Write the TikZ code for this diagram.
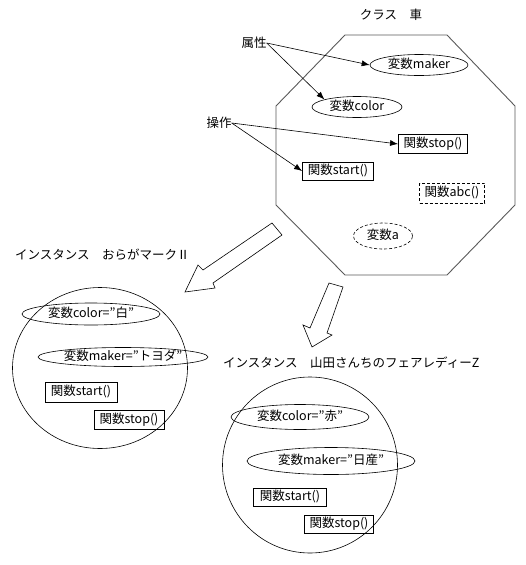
\documentclass[tikz,border=0pt]{standalone}
\usepackage{fontspec}
\setmainfont{Noto Sans CJK JP}
\usetikzlibrary{shapes.geometric,arrows.meta}
\begin{document}
\begin{tikzpicture}[x=1pt,y=-1pt,
  every node/.style={font=\fontsize{12.5}{14}\selectfont, inner sep=0pt},
  attr/.style={draw, ellipse, line width=0.6pt, text height=7pt, text depth=1pt},
  func/.style={draw, rectangle, line width=0.9pt, text height=9pt, text depth=2pt},
  dsh/.style={dash pattern=on 3pt off 2pt},
  ptr/.style={-{Latex[length=8pt,width=6pt]}, line width=0.6pt},
  hollow/.style={draw, line width=0.6pt, line join=miter},
  inst/.style={draw, ellipse, line width=0.6pt}
]
\useasboundingbox (0,0) rectangle (526,565);

% class octagon
\draw[line width=0.9pt, draw=black!65] (345,35) -- (447,35) -- (515,106) -- (515,205)
  -- (447,275) -- (345,275) -- (276,205) -- (276,106) -- cycle;

\node (title) at (391,15) {クラス　車};
\node (zokusei) at (254,43) {属性};
\node (sousa) at (219,123) {操作};

\node[attr, minimum width=98pt, minimum height=21pt] (maker) at (419,65) {変数maker};
\node[attr, minimum width=90pt, minimum height=21pt] (color) at (357,107) {変数color};
\node[func, minimum width=69pt, minimum height=19pt] (stop) at (433,144) {関数stop()};
\node[func, minimum width=71pt, minimum height=18pt] (start) at (338,171) {関数start()};
\node[func, dsh, line width=0.7pt, minimum width=65pt, minimum height=20pt] (abc) at (452,193) {関数abc()};
\node[attr, dsh, minimum width=59pt, minimum height=26pt] (vara) at (383,236) {変数a};

\draw[ptr] (zokusei.east) -- (maker.west);
\draw[ptr] (zokusei.east) -- (color.167);
\draw[ptr] (sousa.east) -- (stop.west);
\draw[ptr] (sousa.east) -- (start.west);

% hollow arrows
\draw[hollow] (272,223) -- (282,235) -- (213,283) -- (215,288) -- (185,292)
  -- (198,265) -- (203,270) -- cycle;
\draw[hollow] (329,283) -- (343,287) -- (327,333) -- (332,335) -- (312,347)
  -- (303,325) -- (310,328) -- cycle;

% instance 1
\node[anchor=west] (t1) at (15,255) {インスタンス　おらがマークⅡ};
\node[inst, minimum width=175pt, minimum height=161pt] (i1) at (100,368) {};
\node[attr, minimum width=138pt, minimum height=22pt] (c1) at (91,314) {変数color=”白”};
\node[attr, minimum width=170pt, minimum height=19pt] (m1) at (123,357) {変数maker=”トヨダ”};
\node[func, minimum width=72pt, minimum height=20pt] (s1) at (81,392) {関数start()};
\node[func, minimum width=70pt, minimum height=19pt] (p1) at (129,420) {関数stop()};

% instance 2
\node[anchor=west] (t2) at (223,363) {インスタンス　山田さんちのフェアレディーZ};
\node[inst, minimum width=175pt, minimum height=176pt] (i2) at (310,465) {};
\node[attr, minimum width=138pt, minimum height=25pt] (c2) at (300,417) {変数color=”赤”};
\node[attr, minimum width=168pt, minimum height=27pt] (m2) at (331,461) {変数maker=”日産”};
\node[func, minimum width=73pt, minimum height=18pt] (s2) at (290,497) {関数start()};
\node[func, minimum width=69pt, minimum height=18pt] (p2) at (339,524) {関数stop()};
\end{tikzpicture}
\end{document}
